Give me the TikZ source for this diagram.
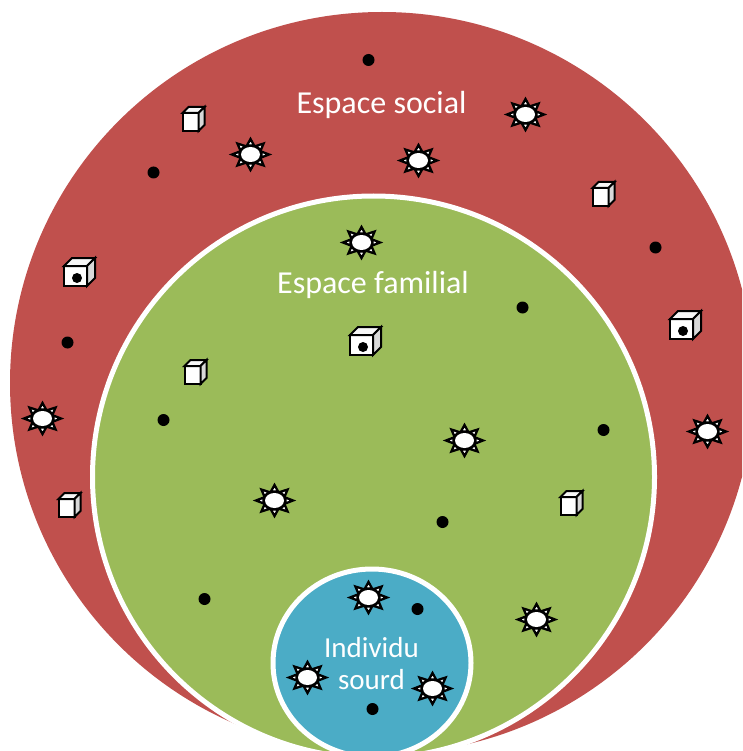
\documentclass[tikz,border=0pt]{standalone}
\usepackage{fontspec}
\setmainfont{Carlito}
\definecolor{redfill}{HTML}{C0504D}
\definecolor{greenfill}{HTML}{9BBB59}
\definecolor{bluefill}{HTML}{4BACC6}
\tikzset{
  disc/.style={draw=white,line width=5pt},
  spot/.style={fill=black,draw=none},
  label/.style={text=white,font=\fontsize{32}{33}\selectfont,align=center},
  smalllabel/.style={text=white,font=\fontsize{29}{32.5}\selectfont,align=center},
  pics/sun/.style={code={
    \foreach \a in {0,45,...,315}{
      \draw[black,line width=2.3pt,fill=white,line join=miter]
        (\a-18:11.5 and 9.5) -- (\a:18.5 and 15.5) -- (\a+18:11.5 and 9.5) -- cycle;
    }
    \fill[black] (0,0) ellipse [x radius=11.5,y radius=9.5];
    \fill[white] (0,0) ellipse [x radius=9.5,y radius=7.5];
  }},
  pics/cube/.style n args={3}{code={
    \draw[black,line width=2pt,fill=white,line join=miter] (-#1/2-#3/2,-#2/2+#3/2) rectangle (#1/2-#3/2,#2/2+#3/2);
    \draw[black,line width=2pt,fill=white!97!black,line join=miter] (-#1/2-#3/2,-#2/2+#3/2) -- (-#1/2+#3/2,-#2/2-#3/2) -- (#1/2+#3/2,-#2/2-#3/2) -- (#1/2-#3/2,-#2/2+#3/2) -- cycle;
    \draw[black,line width=2pt,fill=white!85!black,line join=miter] (#1/2-#3/2,-#2/2+#3/2) -- (#1/2+#3/2,-#2/2-#3/2) -- (#1/2+#3/2,#2/2-#3/2) -- (#1/2-#3/2,#2/2+#3/2) -- cycle;
  }},
  pics/smallcube/.style={code={\pic {cube={16}{18}{6}};}},
  pics/dotcube/.style={code={\pic {cube={23}{20}{8}}; \fill[black] (-2.5,6) circle (5);}}
}
\begin{document}
\begin{tikzpicture}[x=1pt,y=-1pt]
\useasboundingbox (0,0) rectangle (742,751);
\clip (0,0) rectangle (742,751);
\fill[white] (0,0) rectangle (742,751);
\fill[redfill] (382,383) ellipse [x radius=372,y radius=371];
\draw[disc,fill=greenfill] (373.5,477) circle (281);
\draw[disc,fill=bluefill] (372,663) ellipse [x radius=99,y radius=94];
\node[label] (social) at (381.5,104.5) {Espace social};
\node[label] (familial) at (373,285) {Espace familial};
\node[smalllabel] (individu) at (371.5,663.5) {Individu\\sourd};
\foreach \p in {(525.5,114.5),(250.5,154.5),(418.5,160.5),(361.5,242.5),(42.5,418.5),(464.5,440.5),(707.5,431.5),(274.5,500.5),(368.5,597.5),(536.5,619.5),(307.5,677.5),(432.5,688.5)}
  \pic at \p {sun};
\foreach \p in {(368.5,60),(153.5,172.5),(655.5,247.5),(522.5,307.5),(67.5,342.5),(163.5,420),(603.5,430),(442.5,522),(204.5,599),(417.5,609),(372.5,709)}
  \fill[spot] \p circle (6);
\foreach \p in {(193.5,119),(603.5,194),(195.5,372),(69.5,505),(571.5,503)}
  \pic at \p {smallcube};
\foreach \p in {(79.5,272),(685.5,325),(365.5,341)}
  \pic at \p {dotcube};
\end{tikzpicture}
\end{document}
